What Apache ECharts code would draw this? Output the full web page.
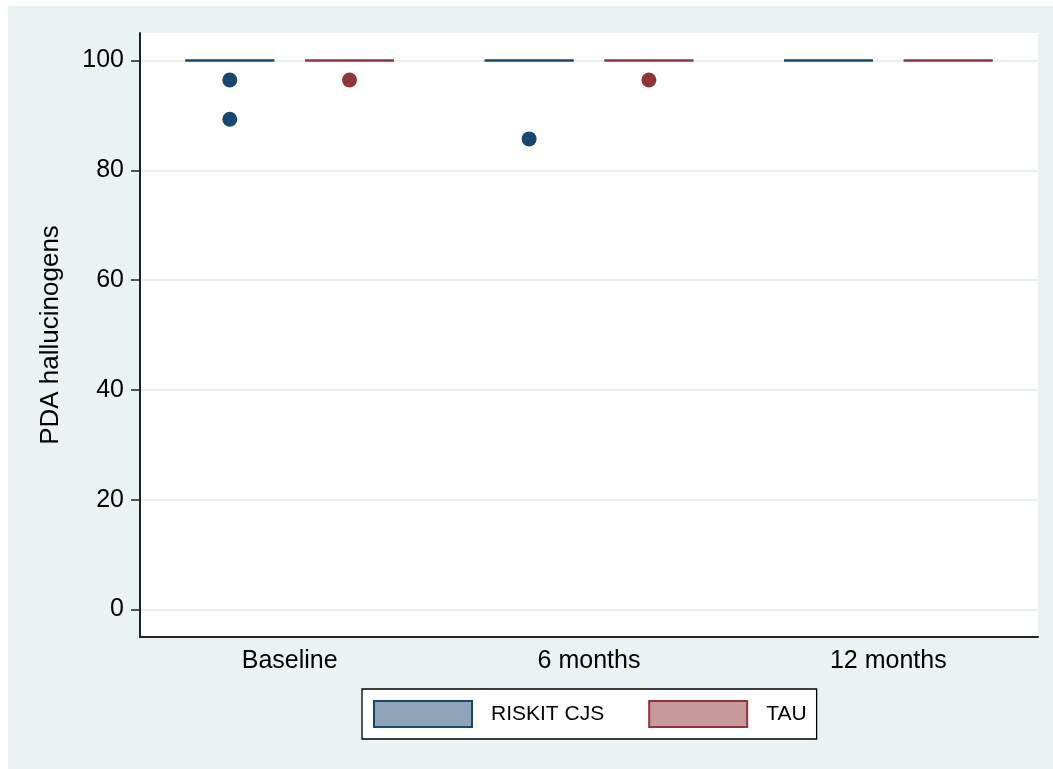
<!DOCTYPE html>
<html>
<head>
<meta charset="utf-8">
<script src="https://cdn.jsdelivr.net/npm/echarts@6/dist/echarts.min.js"></script>
<style>
html,body{margin:0;padding:0;background:#ffffff;}
#bg{position:absolute;left:8px;top:6px;width:1045px;height:763px;background:#eaf2f3;}
#chart{position:absolute;left:0;top:0;width:1053px;height:769px;}
</style>
</head>
<body>
<div id="bg"></div>
<div id="chart"></div>
<script>
// Categories and tick labels
const categories = ['Baseline', '6 months', '12 months'];
const yTicks = [0, 20, 40, 60, 80, 100];
const seriesNames = ['RISKIT CJS', 'TAU'];

// Box statistics per category: [min, q1, median, q3, max]
const riskitBoxes = [
  [100, 100, 100, 100, 100],
  [100, 100, 100, 100, 100],
  [100, 100, 100, 100, 100]
];
const tauBoxes = [
  [100, 100, 100, 100, 100],
  [100, 100, 100, 100, 100],
  [100, 100, 100, 100, 100]
];
// Outliers: [categoryIndex, value]
const riskitOutliers = [[0, 96.43], [0, 89.29], [1, 85.71]];
const tauOutliers = [[0, 96.43], [1, 96.43]];

const BLUE = '#1a476f', RED = '#90353b';
const BLUE_FILL = '#8ea4b9', RED_FILL = '#c8999c';
const OFFSET = 0.2, BOXW = 0.297;

function boxRenderer(offsetFrac, stroke, fill) {
  return function (params, api) {
    const cat = api.value(0);
    const band = api.size([1, 0])[0];
    const cx = api.coord([cat, 0])[0] + offsetFrac * band;
    const w = band * BOXW;
    const y = i => api.coord([cat, api.value(i)])[1];
    const lo = y(1), q1 = y(2), med = y(3), q3 = y(4), hi = y(5);
    const ls = { stroke: stroke, lineWidth: 2 };
    return {
      type: 'group',
      children: [
        { type: 'line', shape: { x1: cx, y1: lo, x2: cx, y2: q1 }, style: ls },
        { type: 'line', shape: { x1: cx, y1: q3, x2: cx, y2: hi }, style: ls },
        { type: 'rect', shape: { x: cx - w / 2, y: q3, width: w, height: q1 - q3 }, style: { fill: fill, stroke: stroke, lineWidth: 2 } },
        { type: 'line', shape: { x1: cx - w / 2, y1: med, x2: cx + w / 2, y2: med }, style: ls }
      ]
    };
  };
}
function dotRenderer(offsetFrac, color) {
  return function (params, api) {
    const cat = api.value(0);
    const band = api.size([1, 0])[0];
    const p = api.coord([cat, api.value(1)]);
    return { type: 'circle', shape: { cx: p[0] + offsetFrac * band, cy: p[1], r: 7.5 }, style: { fill: color } };
  };
}

const chart = echarts.init(document.getElementById('chart'), null, { renderer: 'canvas' });
chart.setOption({
  backgroundColor: 'transparent',
  animation: false,
  textStyle: { fontFamily: 'Liberation Sans, Arial, sans-serif' },
  grid: { left: 140, right: 15, top: 33, bottom: 132, backgroundColor: '#ffffff', show: true, borderWidth: 0 },
  legend: {
    left: 362, top: 689,
    backgroundColor: '#ffffff', borderColor: '#000000', borderWidth: 1.3,
    padding: [11, 10, 11, 11],
    itemWidth: 98, itemHeight: 26, itemGap: 44,
    textStyle: { fontSize: 21, color: '#000', padding: [0, 0, 0, 14] },
    data: [
      { name: seriesNames[0], icon: 'rect', itemStyle: { color: BLUE_FILL, borderColor: BLUE, borderWidth: 2 } },
      { name: seriesNames[1], icon: 'rect', itemStyle: { color: RED_FILL, borderColor: RED, borderWidth: 2 } }
    ]
  },
  xAxis: {
    type: 'category', data: categories,
    axisLine: { onZero: false, lineStyle: { color: '#222', width: 2 } },
    axisTick: { show: false },
    axisLabel: { fontSize: 25, color: '#000', margin: 12 },
    splitLine: { show: false }
  },
  yAxis: {
    type: 'value', min: -5, max: 105,
    name: 'PDA hallucinogens', nameLocation: 'middle', nameRotate: 90, nameGap: 76,
    nameTextStyle: { fontSize: 26, color: '#000' },
    axisLine: { show: true, lineStyle: { color: '#222', width: 2 } },
    axisTick: { show: true, length: 9, lineStyle: { color: '#222', width: 1.5 }, customValues: yTicks },
    axisLabel: { fontSize: 25, color: '#000', margin: 16, customValues: yTicks },
    splitLine: { show: true, lineStyle: { color: '#eaeef1', width: 2 } }
  },
  series: [
    { name: seriesNames[0], type: 'custom', renderItem: boxRenderer(-OFFSET, BLUE, BLUE_FILL),
      itemStyle: { color: BLUE_FILL, borderColor: BLUE },
      encode: { x: 0, y: [1, 2, 3, 4, 5] },
      data: riskitBoxes.map((b, i) => [i].concat(b)) },
    { name: seriesNames[1], type: 'custom', renderItem: boxRenderer(OFFSET, RED, RED_FILL),
      itemStyle: { color: RED_FILL, borderColor: RED },
      encode: { x: 0, y: [1, 2, 3, 4, 5] },
      data: tauBoxes.map((b, i) => [i].concat(b)) },
    { name: 'RISKIT outliers', type: 'custom', renderItem: dotRenderer(-OFFSET, BLUE),
      encode: { x: 0, y: 1 }, data: riskitOutliers },
    { name: 'TAU outliers', type: 'custom', renderItem: dotRenderer(OFFSET, RED),
      encode: { x: 0, y: 1 }, data: tauOutliers }
  ]
});
</script>
</body>
</html>
